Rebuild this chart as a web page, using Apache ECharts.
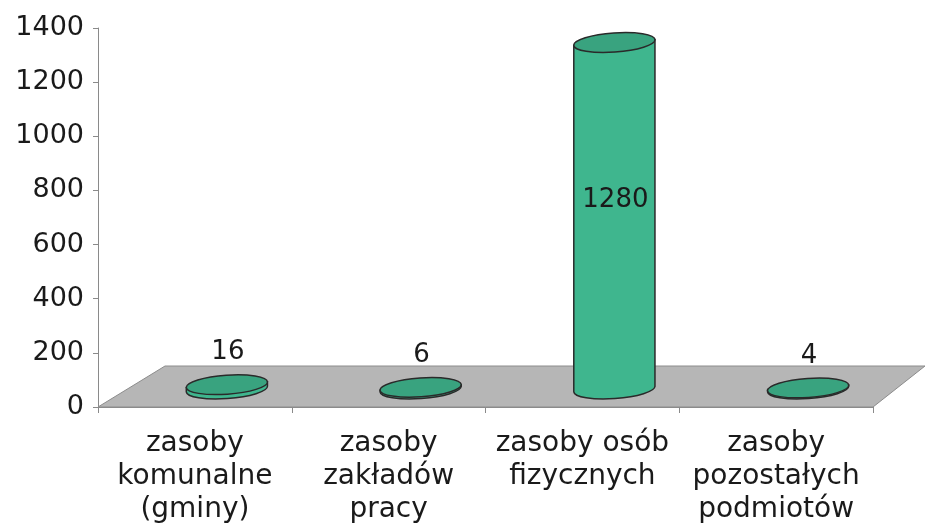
<!DOCTYPE html>
<html>
<head>
<meta charset="utf-8">
<script src="https://cdn.jsdelivr.net/npm/echarts@6/dist/echarts.min.js"></script>
<style>
html,body{margin:0;padding:0;background:#fff;}
#chart{width:928px;height:529px;}
</style>
</head>
<body>
<div id="chart"></div>
<script>
const categories = ['zasoby\nkomunalne\n(gminy)', 'zasoby\nzakładów\npracy', 'zasoby osób\nfizycznych', 'zasoby\npozostałych\npodmiotów'];
const values = [16, 6, 1280, 4];
const yMin = 0, yMax = 1400, yStep = 200;

const FONT = 'DejaVu Sans';
const DX = 32, DY = 18;          // cylinder placement into the floor depth
const FLOOR_L = 67, FLOOR_R = 52, FLOOR_D = 41;
const TILT = -4;                  // degrees, ellipse tilt

const chart = echarts.init(document.getElementById('chart'), null, {renderer: 'canvas'});

function ends(cx, cy, rx) {
  const t = TILT * Math.PI / 180;
  return [[cx - rx * Math.cos(t), cy - rx * Math.sin(t)], [cx + rx * Math.cos(t), cy + rx * Math.sin(t)]];
}

chart.setOption({
  animation: false,
  backgroundColor: '#ffffff',
  grid: {left: 98, right: 55, top: 28, bottom: 122},
  xAxis: {
    type: 'category',
    data: categories,
    boundaryGap: true,
    axisLine: {lineStyle: {color: '#8a8a8a', width: 1}},
    axisTick: {show: true, length: 6, interval: 0, alignWithLabel: false, lineStyle: {color: '#8a8a8a'}},
    axisLabel: {interval: 0, margin: 20, fontFamily: FONT, fontSize: 28, lineHeight: 33, color: '#1a1a1a'}
  },
  yAxis: {
    type: 'value',
    min: yMin, max: yMax, interval: yStep,
    axisLine: {show: true, lineStyle: {color: '#8a8a8a', width: 1}},
    axisTick: {show: true, length: 5, lineStyle: {color: '#8a8a8a'}},
    splitLine: {show: false},
    axisLabel: {margin: 14, fontFamily: FONT, fontSize: 27, color: '#1a1a1a', formatter: v => String(v)}
  },
  series: [
    {
      type: 'custom',
      z: 1,
      data: [[0, 0]],
      silent: true,
      renderItem: function (params, api) {
        const cs = params.coordSys;
        const b = cs.y + cs.height;
        return {
          type: 'polygon',
          shape: {points: [[cs.x, b], [cs.x + cs.width, b], [cs.x + cs.width + FLOOR_R, b - FLOOR_D], [cs.x + FLOOR_L, b - FLOOR_D]]},
          style: {fill: '#b6b6b6', stroke: '#8c8c8c', lineWidth: 1}
        };
      }
    },
    {
      type: 'custom',
      z: 3,
      data: values.map((v, i) => [i, v]),
      renderItem: function (params, api) {
        const cat = api.value(0), val = api.value(1);
        const base = api.coord([cat, 0]);
        const top = api.coord([cat, val]);
        const bw = api.size([1, 0])[0];
        const rx = bw * 0.21, ry = 9.5;
        const cx = base[0] + DX;
        const by = base[1] - DY;
        const ty = top[1] - DY;
        const [tl, tr] = ends(cx, ty, rx);
        const [bl, br] = ends(cx, by, rx);
        const body = `M${tl[0]},${tl[1]} L${bl[0]},${bl[1]} A${rx},${ry} ${TILT} 0 0 ${br[0]},${br[1]} L${tr[0]},${tr[1]} Z`;
        const cap = `M${tl[0]},${tl[1]} A${rx},${ry} ${TILT} 0 0 ${tr[0]},${tr[1]} A${rx},${ry} ${TILT} 0 0 ${tl[0]},${tl[1]} Z`;
        const inside = (by - ty) > 60;
        const ly = inside ? (ty + by) / 2 - 15 : ty - 32;
        return {
          type: 'group',
          children: [
            {type: 'path', shape: {pathData: body}, style: {fill: '#3fb68e', stroke: '#2a2a2a', lineWidth: 1.5}},
            {type: 'path', shape: {pathData: cap}, style: {fill: '#39a37f', stroke: '#2a2a2a', lineWidth: 1.5}},
            {type: 'text', x: cx + 1, y: ly, style: {text: String(val), fontFamily: FONT, fontSize: 26, fill: '#1a1a1a', align: 'center', verticalAlign: 'middle'}}
          ]
        };
      }
    }
  ]
});
</script>
</body>
</html>
